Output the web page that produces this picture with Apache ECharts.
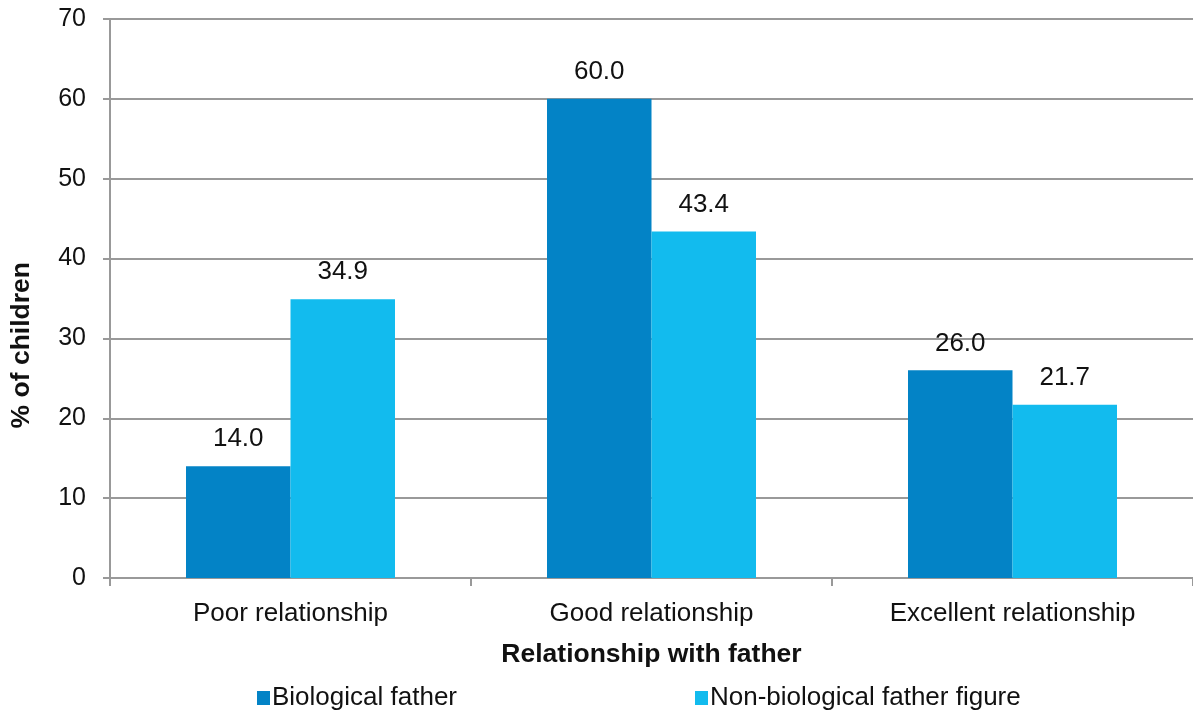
<!DOCTYPE html>
<html>
<head>
<meta charset="utf-8">
<script src="https://cdn.jsdelivr.net/npm/echarts@6/dist/echarts.min.js"></script>
<style>html,body{margin:0;padding:0;background:#fff}#c{width:1193px;height:713px}</style>
</head>
<body>
<div id="c"></div>
<script>
const categories = ['Poor relationship', 'Good relationship', 'Excellent relationship'];
const seriesNames = ['Biological father', 'Non-biological father figure'];
const biological = [14.0, 60.0, 26.0];
const nonBiological = [34.9, 43.4, 21.7];

const chart = echarts.init(document.getElementById('c'), null, {renderer: 'canvas'});
const font = '"Liberation Sans", Arial, sans-serif';
const lbl = {show: true, position: 'top', distance: 14, color: '#111', fontSize: 26, fontFamily: font,
  formatter: p => p.value.toFixed(1)};
chart.setOption({
  animation: false,
  textStyle: {fontFamily: font},
  grid: {left: 110, top: 19, width: 1089, height: 559},
  legend: {
    bottom: -3, left: 252, itemGap: 238, icon: 'rect', itemWidth: 13, itemHeight: 14,
    textStyle: {fontSize: 26, color: '#111', fontFamily: font, padding: [0, 0, 0, -3]},
    data: seriesNames
  },
  xAxis: {
    type: 'category', data: categories,
    name: 'Relationship with father', nameLocation: 'middle', nameGap: 63,
    nameTextStyle: {fontSize: 26.5, fontWeight: 'bold', color: '#111'},
    axisLine: {lineStyle: {color: '#999', width: 2}},
    axisTick: {show: true, length: 8, lineStyle: {color: '#999', width: 2}},
    axisLabel: {fontSize: 26, color: '#111', margin: 23}
  },
  yAxis: {
    type: 'value', min: 0, max: 70, interval: 10,
    axisLine: {show: true, lineStyle: {color: '#999', width: 2}},
    axisTick: {show: true, length: 7, lineStyle: {color: '#999', width: 2}},
    axisLabel: {fontSize: 25, color: '#111', margin: 24},
    splitLine: {lineStyle: {color: '#999', width: 2}}
  },
  graphic: [{
    type: 'text', left: 8, top: 262, rotation: Math.PI / 2,
    style: {text: '% of children', fontSize: 26.5, fontWeight: 'bold', fill: '#111', fontFamily: font}
  }],
  series: [
    {name: seriesNames[0], type: 'bar', data: biological, barWidth: 104.5, barGap: '0%',
     itemStyle: {color: '#0383C6'}, label: lbl},
    {name: seriesNames[1], type: 'bar', data: nonBiological, barWidth: 104.5, barGap: '0%',
     itemStyle: {color: '#12BBEE'}, label: lbl}
  ]
});
</script>
</body>
</html>
